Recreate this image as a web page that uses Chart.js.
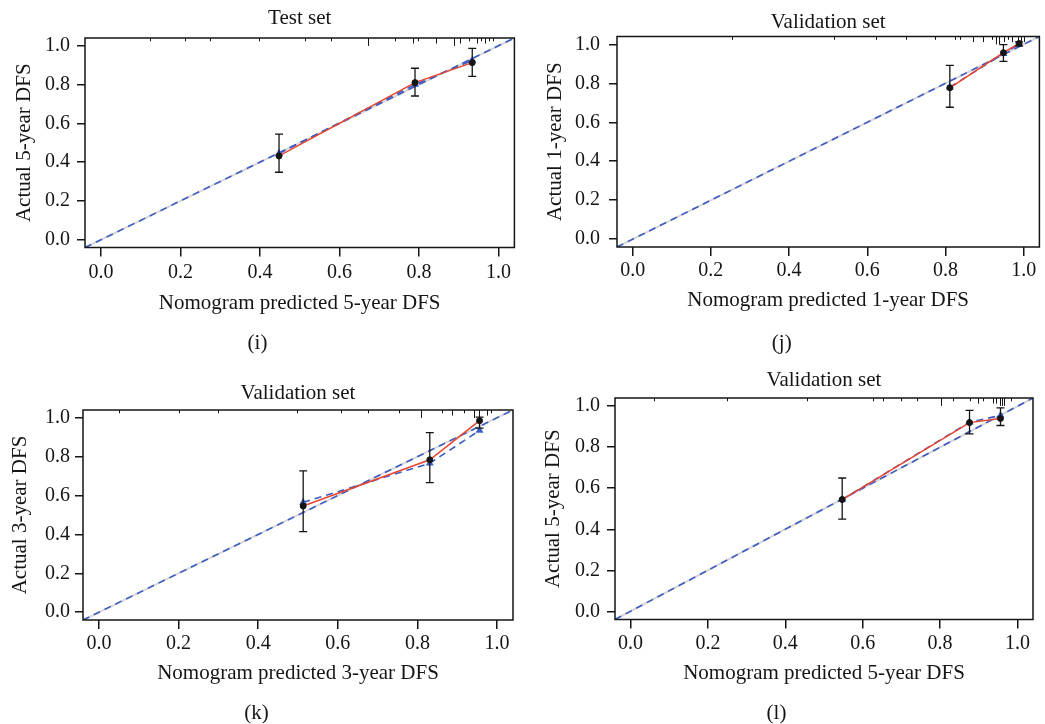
<!DOCTYPE html>
<html>
<head>
<meta charset="utf-8">
<script src="https://cdn.jsdelivr.net/npm/chart.js@4.4.1/dist/chart.umd.min.js"></script>
<style>
  body { margin: 0; background: #fff; width: 1045px; height: 724px; position: relative; overflow: hidden; }
  canvas { position: absolute; }
</style>
</head>
<body>
<canvas id="ci" width="520" height="360" style="left:0px;top:0px"></canvas>
<canvas id="cj" width="525" height="360" style="left:520px;top:0px"></canvas>
<canvas id="ck" width="520" height="364" style="left:0px;top:360px"></canvas>
<canvas id="cl" width="525" height="364" style="left:520px;top:360px"></canvas>
<script>
// axis range (R pads 4% each side) and tick values
const axisMin = -0.04;
const axisMax = 1.04;
const axisTicks = [0, 0.2, 0.4, 0.6, 0.8, 1.0];

// (i) test set, 5-year DFS
const predI = [0.448, 0.790, 0.934];
const obsI = [0.432, 0.810, 0.913];
const loI = [0.348, 0.741, 0.842];
const hiI = [0.544, 0.884, 0.987];
const corrI = [0.445, 0.800, 0.925];
const rugI = [0.123, 0.211, 0.274, 0.397, 0.513, 0.578, 0.671, 0.739, 0.784, 0.797, 0.844, 0.889, 0.902, 0.925, 0.945, 0.955, 0.965, 0.975, 0.985];
const rugNI = [1, 1, 1, 1, 1, 1, 3, 1, 2, 1, 2, 3, 2, 1, 2, 1, 2, 1, 1];

// (j) validation set, 1-year DFS
const predJ = [0.811, 0.948, 0.988];
const obsJ = [0.777, 0.957, 1.004];
const loJ = [0.677, 0.912, 0.992];
const hiJ = [0.892, 0.998, 1.012];
const corrJ = [0.780, 0.952, 1.000];
const rugJ = [0.254, 0.516, 0.621, 0.700, 0.773, 0.824, 0.836, 0.870, 0.895, 0.920, 0.930, 0.937, 0.950, 0.960, 0.970, 0.985, 0.992, 1.000];
const rugNJ = [1, 1, 1, 1, 1, 1, 1, 2, 2, 1, 3, 3, 2, 1, 2, 3, 3, 2];

// (k) validation set, 3-year DFS
const predK = [0.513, 0.831, 0.956];
const obsK = [0.546, 0.784, 0.985];
const loK = [0.414, 0.667, 0.947];
const hiK = [0.727, 0.924, 1.003];
const corrK = [0.565, 0.766, 0.935];
const rugK = [0.050, 0.200, 0.300, 0.498, 0.607, 0.677, 0.754, 0.810, 0.862, 0.888, 0.917, 0.942, 0.955, 0.975, 0.984];
const rugNK = [1, 1, 1, 1, 1, 1, 1, 3, 1, 2, 1, 3, 3, 2, 1];

// (l) validation set, 5-year DFS
const predL = [0.547, 0.876, 0.956];
const obsL = [0.545, 0.920, 0.940];
const loL = [0.449, 0.865, 0.906];
const hiL = [0.650, 0.980, 0.992];
const corrL = [0.545, 0.922, 0.955];
const rugL = [0.060, 0.249, 0.455, 0.627, 0.653, 0.700, 0.739, 0.803, 0.833, 0.876, 0.898, 0.911, 0.936, 0.945, 0.954, 0.960, 0.966, 0.984];
const rugNL = [1, 1, 1, 1, 1, 1, 1, 3, 1, 1, 2, 1, 2, 2, 3, 3, 3, 1];

const RED = "#e8452f";
const BLUE = "#3c5cc4";
const GREY = "#d6d6d6";
const INK = "#151515";

Chart.defaults.font.family = "'Liberation Serif', 'DejaVu Serif', serif";
Chart.defaults.color = INK;

const pts = (xs, ys) => xs.map((v, i) => ({ x: v, y: ys[i] }));

// rug along the top, error bars and the box around the plot
function framePlugin(p) {
  return {
    id: "frame",
    afterDatasetsDraw(chart) {
      const { ctx, chartArea: { left, top, right, bottom }, scales: { x, y } } = chart;
      ctx.save();
      ctx.strokeStyle = INK;
      ctx.lineWidth = 1;
      p.rug.forEach((v, i) => {
        const px = Math.round(x.getPixelForValue(v)) + 0.5;
        ctx.beginPath();
        ctx.moveTo(px, top);
        ctx.lineTo(px, top + 1 + p.rugN[i] * 2.3);
        ctx.stroke();
      });
      ctx.lineWidth = 1.3;
      p.pred.forEach((v, i) => {
        const px = x.getPixelForValue(v);
        const yl = y.getPixelForValue(p.lo[i]);
        const yh = y.getPixelForValue(p.hi[i]);
        ctx.beginPath();
        ctx.moveTo(px, yl); ctx.lineTo(px, yh);
        ctx.moveTo(px - 4, yl); ctx.lineTo(px + 4, yl);
        ctx.moveTo(px - 4, yh); ctx.lineTo(px + 4, yh);
        ctx.stroke();
      });
      ctx.lineWidth = 1.5;
      ctx.strokeRect(left, top, right - left, bottom - top);
      ctx.restore();
    },
  };
}

function makePanel(p) {
  const L = p.layout;
  const tickFont = { size: 20, lineHeight: 1 };
  const labelFont = { size: 21, lineHeight: 1, weight: "normal" };
  new Chart(document.getElementById(p.id), {
    type: "scatter",
    data: {
      datasets: [
        {
          data: pts(p.pred, p.obs),
          pointRadius: 3,
          pointBackgroundColor: INK,
          pointBorderColor: INK,
          showLine: false,
          order: 0,
        },
        {
          data: pts(p.pred, p.obs),
          showLine: true,
          borderColor: RED,
          borderWidth: 1.5,
          pointRadius: 0,
          order: 1,
        },
        {
          data: pts(p.pred, p.corr),
          showLine: true,
          borderColor: BLUE,
          borderWidth: 1.6,
          borderDash: [7, 5],
          pointStyle: "triangle",
          pointRadius: 3,
          pointBackgroundColor: BLUE,
          pointBorderColor: BLUE,
          order: 2,
        },
        {
          data: [{ x: axisMin, y: axisMin }, { x: axisMax, y: axisMax }],
          showLine: true,
          borderColor: BLUE,
          borderWidth: 1.6,
          borderDash: [7, 5],
          pointRadius: 0,
          order: 3,
        },
        {
          data: [{ x: axisMin, y: axisMin }, { x: axisMax, y: axisMax }],
          showLine: true,
          borderColor: GREY,
          borderWidth: 2,
          pointRadius: 0,
          order: 4,
        },
      ],
    },
    options: {
      responsive: false,
      animation: false,
      devicePixelRatio: 1,
      layout: { padding: { left: 0, right: L.padRight, top: 0, bottom: 0 } },
      scales: {
        x: {
          type: "linear",
          min: axisMin,
          max: axisMax,
          afterBuildTicks: (s) => { s.ticks = axisTicks.map((v) => ({ value: v })); },
          afterFit: (s) => { s.height = L.xHeight; },
          grid: { drawOnChartArea: false, drawTicks: true, tickLength: 9, color: INK, lineWidth: 1.5 },
          border: { display: false },
          ticks: { font: tickFont, padding: L.xTickPad, color: INK, maxRotation: 0, callback: (v) => v.toFixed(1) },
          title: { display: true, text: p.xLabel, font: labelFont, color: INK, padding: { top: 0, bottom: L.xTitlePad } },
        },
        y: {
          type: "linear",
          min: axisMin,
          max: axisMax,
          afterBuildTicks: (s) => { s.ticks = axisTicks.map((v) => ({ value: v })); },
          afterFit: (s) => { s.width = L.yWidth; },
          grid: { drawOnChartArea: false, drawTicks: true, tickLength: 8, color: INK, lineWidth: 1.5 },
          border: { display: false },
          ticks: { font: tickFont, padding: L.yTickPad, color: INK, callback: (v) => v.toFixed(1) },
          title: { display: true, text: p.yLabel, font: labelFont, color: INK, padding: { top: L.yTitlePad, bottom: 0 } },
        },
      },
      plugins: {
        legend: { display: false },
        tooltip: { enabled: false },
        title: {
          display: true,
          text: p.title,
          fullSize: false,
          font: labelFont,
          color: INK,
          padding: { top: L.titleTop, bottom: L.titleBottom },
        },
        subtitle: {
          display: true,
          position: "bottom",
          text: p.tag,
          font: labelFont,
          color: INK,
          padding: { top: 0, bottom: L.tagBottom },
        },
      },
    },
    plugins: [framePlugin(p)],
  });
}

const panels = [
  {
    id: "ci", title: "Test set", tag: "(i)",
    xLabel: "Nomogram predicted 5-year DFS", yLabel: "Actual 5-year DFS",
    pred: predI, obs: obsI, lo: loI, hi: hiI, corr: corrI, rug: rugI, rugN: rugNI,
    layout: { padRight: 5, yWidth: 85, titleTop: 7.5, titleBottom: 9.5, xHeight: 85.5, tagBottom: 6,
              yTitlePad: 13.5, yTickPad: 7, xTickPad: 6.5, xTitlePad: 19.5 },
  },
  {
    id: "cj", title: "Validation set", tag: "(j)",
    xLabel: "Nomogram predicted 1-year DFS", yLabel: "Actual 1-year DFS",
    pred: predJ, obs: obsJ, lo: loJ, hi: hiJ, corr: corrJ, rug: rugJ, rugN: rugNJ,
    layout: { padRight: 1.5, yWidth: 97, titleTop: 11.5, titleBottom: 4, xHeight: 86, tagBottom: 6,
              yTitlePad: 24.5, yTickPad: 9, xTickPad: 5, xTitlePad: 22.5 },
  },
  {
    id: "ck", title: "Validation set", tag: "(k)",
    xLabel: "Nomogram predicted 3-year DFS", yLabel: "Actual 3-year DFS",
    pred: predK, obs: obsK, lo: loK, hi: hiK, corr: corrK, rug: rugK, rugN: rugNK,
    layout: { padRight: 7, yWidth: 83, titleTop: 22.5, titleBottom: 6.5, xHeight: 83, tagBottom: 0,
              yTitlePad: 9.5, yTickPad: 5, xTickPad: 5, xTitlePad: 19.5 },
  },
  {
    id: "cl", title: "Validation set", tag: "(l)",
    xLabel: "Nomogram predicted 5-year DFS", yLabel: "Actual 5-year DFS",
    pred: predL, obs: obsL, lo: loL, hi: hiL, corr: corrL, rug: rugL, rugN: rugNL,
    layout: { padRight: 12, yWidth: 95, titleTop: 9.5, titleBottom: 7.5, xHeight: 83.5, tagBottom: 0,
              yTitlePad: 22.5, yTickPad: 7, xTickPad: 5.5, xTitlePad: 19.5 },
  },
];

panels.forEach(makePanel);
</script>
</body>
</html>
